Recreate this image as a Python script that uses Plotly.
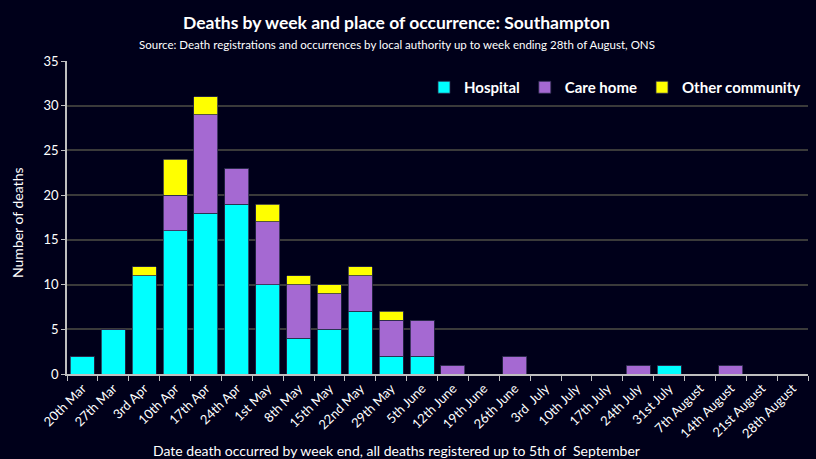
import plotly.graph_objects as go

weeks = ["20th Mar", "27th Mar", "3rd Apr", "10th Apr", "17th Apr", "24th Apr", "1st May",
         "8th May", "15th May", "22nd May", "29th May", "5th June", "12th June", "19th June",
         "26th June", "3rd  July", "10th July", "17th July", "24th July", "31st July",
         "7th August", "14th August", "21st August", "28th August"]
hospital = [2, 5, 11, 16, 18, 19, 10, 4, 5, 7, 2, 2, 0, 0, 0, 0, 0, 0, 0, 1, 0, 0, 0, 0]
care_home = [0, 0, 0, 4, 11, 4, 7, 6, 4, 4, 4, 4, 1, 0, 2, 0, 0, 0, 1, 0, 0, 1, 0, 0]
other_community = [0, 0, 1, 4, 2, 0, 2, 1, 1, 1, 1, 0, 0, 0, 0, 0, 0, 0, 0, 0, 0, 0, 0, 0]

bg = "#00001a"
font_family = "Lato, 'Open Sans', sans-serif"
W, H = 816, 459
L, R, T, B = 67, 8, 61, 85
pw = W - L - R
ph = H - T - B

fig = go.Figure()
for name, vals, col in [("Hospital", hospital, "#00ffff"),
                        ("Care home", care_home, "#a569d2"),
                        ("Other community", other_community, "#ffff00")]:
    fig.add_trace(go.Bar(x=weeks, y=vals, name="<b>" + name + "</b>",
                         marker=dict(color=col, line=dict(color="#2a2a4a", width=0.8))))

def px_x(x):
    return (x - L) / pw

def px_y(y):
    return (H - B - y) / ph

annotations = [
    dict(text="<b>Deaths by week and place of occurrence: Southampton</b>",
         x=px_x(396), y=px_y(22), xref="paper", yref="paper", xanchor="center", yanchor="middle",
         showarrow=False, font=dict(size=17.5, color="white", family=font_family)),
    dict(text="Source: Death registrations and occurrences by local authority up to week ending 28th of August, ONS",
         x=px_x(397), y=px_y(44), xref="paper", yref="paper", xanchor="center", yanchor="middle",
         showarrow=False, font=dict(size=11.5, color="white", family=font_family)),
    dict(text="Date death occurred by week end, all deaths registered up to 5th of  September",
         x=px_x(396), y=px_y(450), xref="paper", yref="paper", xanchor="center", yanchor="middle",
         showarrow=False, font=dict(size=14, color="white", family=font_family)),
    dict(text="Number of deaths", textangle=-90,
         x=px_x(17), y=px_y(223), xref="paper", yref="paper", xanchor="center", yanchor="middle",
         showarrow=False, font=dict(size=14, color="white", family=font_family)),
]

fig.update_layout(
    barmode="stack",
    bargap=0.22,
    width=W, height=H,
    paper_bgcolor=bg, plot_bgcolor=bg,
    margin=dict(l=L, r=R, t=T, b=B, autoexpand=False),
    font=dict(family=font_family, color="white", size=12),
    annotations=annotations,
    legend=dict(orientation="h", x=px_x(806), xanchor="right", y=px_y(71), yanchor="top",
                bgcolor="rgba(0,0,0,0)", font=dict(size=15, color="white"),
                traceorder="normal", itemwidth=30),
    showlegend=True,
)
fig.update_xaxes(
    type="category", tickangle=-45, tickfont=dict(size=13, color="white"),
    showline=True, linecolor="#bfbfbf", linewidth=1.5, automargin=False,
    ticks="outside", tickson="boundaries", tickcolor="#bfbfbf", ticklen=5,
    showgrid=False,
)
fig.update_yaxes(
    range=[0, 35], dtick=5, tickfont=dict(size=13, color="white"), automargin=False,
    showline=True, linecolor="#bfbfbf", linewidth=1.5,
    ticks="outside", tickcolor="#bfbfbf", ticklen=4,
    showgrid=True, gridcolor="#3a3a3a", gridwidth=1.5, zeroline=False,
)

fig.write_html("out.html",
               config={"displayModeBar": False},
               post_script="document.body.style.margin='0';document.body.style.overflow='hidden';"
                           "document.body.style.background='" + bg + "';")
